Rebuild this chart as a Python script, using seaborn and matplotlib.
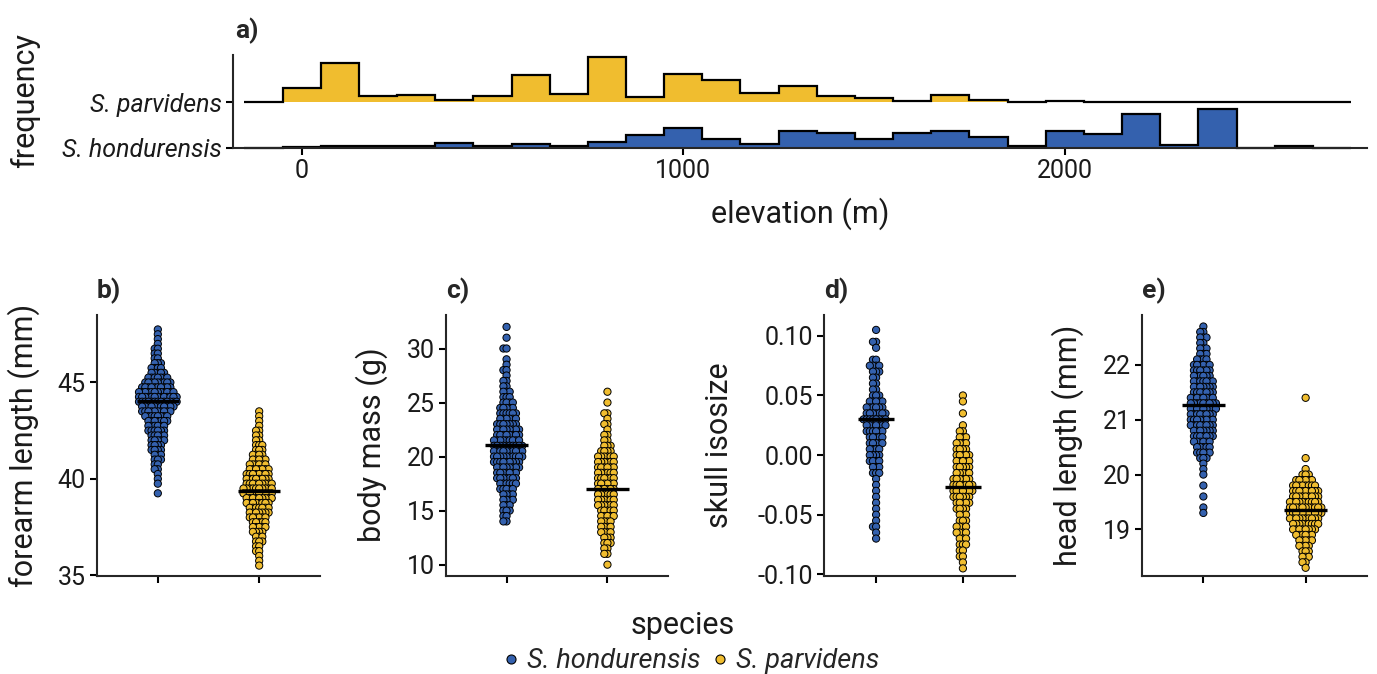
import numpy as np
import pandas as pd
import matplotlib
matplotlib.use("Agg")
import matplotlib.pyplot as plt
import seaborn as sns
from matplotlib.lines import Line2D

# ---------------- data ----------------
species = ["S. hondurensis", "S. parvidens"]
colors = ["#3461AE", "#F0BD2F"]

# top panel: elevation histogram (100 m bins, -150 .. 2750 m), relative frequency
elev_edges = np.arange(-150, 2751, 100)
parv_freq = [0, 14, 39.7, 6, 7.3, 2.3, 6, 27, 8.3, 45.7, 5.7, 28, 22.3, 9, 16.7,
             6.3, 4.3, 1.7, 7.7, 2.3, 0.7, 1.7, 0, 0, 0, 0, 0, 0, 0]
hond_freq = [0, 0.7, 2, 2, 2, 4.3, 1.3, 3.3, 2, 5.7, 12.3, 19.7, 9, 3.3, 16.3,
             14.7, 8.7, 15, 16.3, 11, 2, 16.7, 13.3, 33.3, 3, 39, 0, 1.3, 0]

# forearm length (mm): value levels and counts per level
forearm_hond_levels = np.round(np.arange(47.75, 39.24, -0.25), 3)
forearm_hond_counts = [1, 1, 1, 1, 2, 2, 2, 3, 4, 5, 7, 9, 10, 12, 13, 13, 11, 10, 8, 7,
                       6, 6, 5, 5, 4, 4, 3, 3, 2, 2, 1, 1, 1, 0, 1]
forearm_parv_levels = np.round(np.arange(43.5, 35.49, -0.25), 3)
forearm_parv_counts = [1, 1, 1, 1, 2, 2, 2, 3, 3, 4, 5, 6, 7, 8, 8, 9, 10, 10, 9, 8,
                       7, 7, 6, 5, 5, 4, 3, 3, 2, 2, 1, 1, 1]

# body mass (g)
mass_hond_levels = np.round(np.arange(32, 13.99, -0.5), 3)
mass_hond_counts = [1, 0, 1, 0, 2, 0, 1, 1, 2, 1, 2, 2, 3, 3, 4, 5, 6, 6, 7, 8,
                    8, 9, 10, 10, 10, 9, 8, 7, 7, 6, 5, 4, 4, 3, 3, 2, 2]
mass_parv_levels = np.round(np.arange(26, 9.99, -0.5), 3)
mass_parv_counts = [1, 0, 1, 0, 2, 1, 2, 1, 2, 2, 3, 4, 6, 6, 6, 6, 6, 6, 6, 6,
                    6, 6, 5, 5, 4, 4, 4, 3, 3, 2, 2, 0, 1]

# skull isosize
skull_hond_levels = np.round(np.arange(0.105, -0.0701, -0.005), 4)
skull_hond_counts = [1, 0, 2, 1, 0, 2, 4, 3, 2, 2, 2, 3, 5, 6, 7, 8, 7, 6, 5, 5,
                     4, 4, 4, 3, 3, 1, 1, 1, 1, 1, 1, 1, 1, 2, 1, 1]
skull_parv_levels = np.round(np.arange(0.05, -0.0951, -0.005), 4)
skull_parv_counts = [1, 1, 0, 1, 0, 1, 2, 3, 4, 4, 5, 5, 5, 5, 6, 7, 7, 6, 5, 4,
                     3, 3, 4, 4, 3, 3, 2, 2, 1, 1]

# head length (mm)
head_hond_levels = np.round(np.arange(22.7, 19.29, -0.1), 3)
head_hond_counts = [1, 2, 3, 2, 3, 3, 4, 6, 6, 6, 7, 7, 7, 8, 9, 9, 8, 8, 8, 7,
                    7, 6, 5, 5, 3, 1, 1, 1, 0, 1, 0, 1, 0, 1, 1]
head_parv_levels = np.round(np.arange(21.4, 18.29, -0.1), 3)
head_parv_counts = [1, 0, 0, 0, 0, 0, 0, 0, 0, 0, 0, 1, 0, 1, 3, 6, 8, 9, 9, 10,
                    11, 11, 10, 9, 8, 6, 5, 4, 3, 3, 2, 1]

# group means (black bars)
forearm_means = [44.05, 39.38]
mass_means = [21.05, 17.0]
skull_means = [0.030, -0.027]
head_means = [21.27, 19.36]

# ---------------- style ----------------
sns.set_theme(style="ticks")
plt.rcParams["font.family"] = ["Roboto", "DejaVu Sans"]
plt.rcParams["axes.linewidth"] = 1.5
TICK = 18
TITLE = 22
TXT = "#1a1a1a"

W, H = 1377, 674
fig = plt.figure(figsize=(W / 100, H / 100), dpi=100)


def rect(x0, x1, ytop, ybot):
    return [x0 / W, 1 - ybot / H, (x1 - x0) / W, (ybot - ytop) / H]


def style_axis(ax):
    sns.despine(ax=ax)
    ax.spines["left"].set_linewidth(1.5)
    ax.spines["bottom"].set_linewidth(1.5)
    ax.tick_params(axis="both", labelsize=TICK, length=5, width=1.5,
                   color="black", labelcolor=TXT, pad=3)


# ---------------- panel a ----------------
ax0 = fig.add_axes(rect(233, 1367, 55, 147.5))
offset = 45.3
hond = np.array(hond_freq)
parv = np.array(parv_freq)
ax0.stairs(hond, elev_edges, baseline=0, fill=True, color=colors[0], lw=0, clip_on=False)
ax0.stairs(hond, elev_edges, baseline=0, fill=False, color="black", lw=1.6, clip_on=False)
ax0.stairs(parv + offset, elev_edges, baseline=offset, fill=True, color=colors[1], lw=0, clip_on=False)
ax0.stairs(parv + offset, elev_edges, baseline=offset, fill=False, color="black", lw=1.6, clip_on=False)
ax0.set_xlim(-180, 2792)
ax0.set_ylim(0, 92.5)
ax0.set_xticks([0, 1000, 2000])
ax0.set_yticks([0, offset])
ax0.set_yticklabels(species, fontstyle="italic")
style_axis(ax0)
ax0.set_xlabel("")
ax0.set_ylabel("")
fig.text(25 / W, 1 - 101 / H, "frequency", rotation=90, ha="center", va="center",
         fontsize=TITLE, color=TXT)
fig.text(800 / W, 1 - 214 / H, "elevation (m)", ha="center", va="center",
         fontsize=TITLE, color=TXT)
fig.text(235 / W, 1 - 18 / H, "a)", ha="left", va="top", fontsize=19, fontweight="bold")

# ---------------- bottom panels ----------------
panels = [
    dict(box=(97, 320), tag="b)", label="forearm length (mm)", lab_x=24,
         data=[(forearm_hond_levels, forearm_hond_counts), (forearm_parv_levels, forearm_parv_counts)],
         means=forearm_means, ylim=(34.96, 48.5), ticks=[35, 40, 45], fmt="{:.0f}"),
    dict(box=(446, 668), tag="c)", label="body mass (g)", lab_x=372,
         data=[(mass_hond_levels, mass_hond_counts), (mass_parv_levels, mass_parv_counts)],
         means=mass_means, ylim=(8.95, 33.1), ticks=[10, 15, 20, 25, 30], fmt="{:.0f}"),
    dict(box=(824, 1015), tag="d)", label="skull isosize", lab_x=720,
         data=[(skull_hond_levels, skull_hond_counts), (skull_parv_levels, skull_parv_counts)],
         means=skull_means, ylim=(-0.1014, 0.1175), ticks=[-0.10, -0.05, 0.0, 0.05, 0.10],
         fmt="{:.2f}"),
    dict(box=(1142, 1367), tag="e)", label="head length (mm)", lab_x=1068,
         data=[(head_hond_levels, head_hond_counts), (head_parv_levels, head_parv_counts)],
         means=head_means, ylim=(18.15, 22.91), ticks=[19, 20, 21, 22], fmt="{:.0f}"),
]

swarm_axes = []
for p in panels:
    ax = fig.add_axes(rect(p["box"][0], p["box"][1], 315, 576))
    frames = []
    for sp, (lv, ct) in zip(species, p["data"]):
        frames.append(pd.DataFrame({"species": sp, "value": np.repeat(lv, ct)}))
    df = pd.concat(frames, ignore_index=True)
    sns.swarmplot(data=df, x="species", y="value", hue="species", order=species,
                  hue_order=species, palette=colors, size=1.45, linewidth=0.7,
                  edgecolor="black", legend=False, ax=ax, zorder=2)
    ax.hlines(p["means"], [-0.21, 0.79], [0.21, 1.21], colors="black", lw=2.4, zorder=5)
    ax.set_xlim(-0.6, 1.6)
    ax.set_ylim(*p["ylim"])
    ax.set_xticks([0, 1])
    ax.set_xticklabels([])
    ax.set_yticks(p["ticks"])
    ax.set_yticklabels([p["fmt"].format(t).replace("\u2212", "-") for t in p["ticks"]])
    ax.set_xlabel("")
    ax.set_ylabel("")
    style_axis(ax)
    fig.text(p["lab_x"] / W, 1 - 445 / H, p["label"], rotation=90, ha="center",
             va="center", fontsize=TITLE, color=TXT)
    fig.text(p["box"][0] / W, 1 - 278 / H, p["tag"], ha="left", va="top",
             fontsize=19, fontweight="bold")
    swarm_axes.append(ax)

# compute swarm layout with small footprint, then freeze it and enlarge markers
fig.canvas.draw()
for ax in swarm_axes:
    for coll in ax.collections:
        if "draw" in coll.__dict__:
            del coll.draw
            coll.set_sizes([27])

fig.text(683 / W, 1 - 626 / H, "species", ha="center", va="center",
         fontsize=TITLE, color=TXT)
handles = [Line2D([], [], marker="o", ls="", markerfacecolor=c, markeredgecolor="black",
                  markersize=6.5, markeredgewidth=0.8) for c in colors]
fig.legend(handles, species, loc="center", bbox_to_anchor=(690 / W, 1 - 661 / H),
           ncol=2, frameon=False, prop=dict(size=19.5, style="italic"),
           handletextpad=0.2, columnspacing=0.3, handlelength=0.8, borderpad=0)

fig.savefig("out.png", dpi=100)
